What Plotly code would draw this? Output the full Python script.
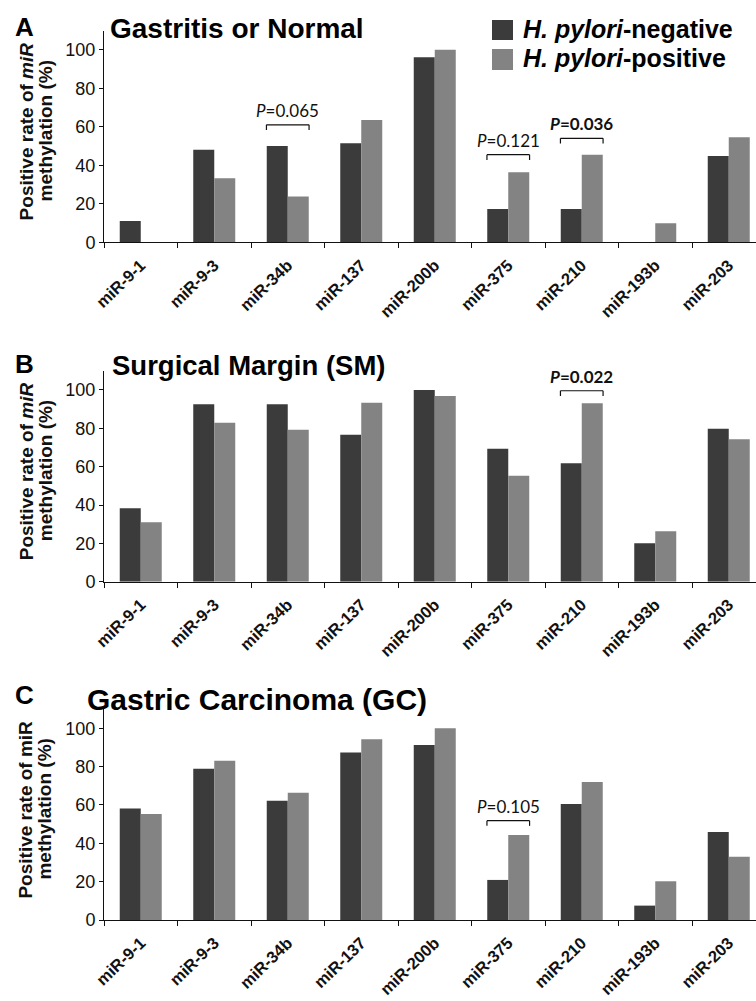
import plotly.graph_objects as go
from plotly.subplots import make_subplots

# microRNA loci on the x axis
mirs = ["miR-9-1", "miR-9-3", "miR-34b", "miR-137", "miR-200b",
        "miR-375", "miR-210", "miR-193b", "miR-203"]

# Positive rate of methylation (%) by H. pylori status
gastritis_neg = [11.1, 48.1, 50.0, 51.4, 96.1, 17.3, 17.3, 0.0, 44.8]
gastritis_pos = [0.0, 33.3, 23.8, 63.5, 100.0, 36.4, 45.5, 9.9, 54.5]
margin_neg = [38.3, 92.5, 92.5, 76.7, 100.0, 69.4, 61.8, 20.0, 79.8]
margin_pos = [31.0, 82.9, 79.3, 93.4, 96.9, 55.3, 93.1, 26.3, 74.3]
carcinoma_neg = [58.1, 78.9, 62.2, 87.3, 91.3, 20.9, 60.5, 7.5, 45.9]
carcinoma_pos = [55.3, 83.1, 66.4, 94.3, 100.0, 44.3, 72.0, 20.2, 33.0]

panel_letters = ["A", "B", "C"]
panel_titles = ["Gastritis or Normal", "Surgical Margin (SM)", "Gastric Carcinoma (GC)"]
series_names = ["H. pylori-negative", "H. pylori-positive"]

# P-value brackets: panel index, locus, label, bold flag, bracket height (%)
p_panel = [0, 0, 0, 1, 2]
p_mir = ["miR-34b", "miR-375", "miR-210", "miR-210", "miR-375"]
p_value = ["0.065", "0.121", "0.036", "0.022", "0.105"]
p_bold = [False, False, True, True, False]
p_level = [61.0, 45.5, 54.0, 99.6, 51.8]

W, H = 756, 1001
DARK = "#3b3b3b"
LIGHT = "#838383"
SANS = "Arial, 'Liberation Sans', sans-serif"
PFONT = "Lato, sans-serif"


def px_x(p):
    return p / W


def px_y(p):
    return 1 - p / H


# plot-area geometry per panel (pixels): top of value axis (110 %) and zero line
panel_top = [30.5, 370.8, 709.1]
panel_zero = [242.3, 581.7, 920.0]
plot_left = 104
cat_width = 73.5
x_right = (W - plot_left) / cat_width - 0.5

fig = make_subplots(rows=3, cols=1)

data = [(gastritis_neg, gastritis_pos), (margin_neg, margin_pos),
        (carcinoma_neg, carcinoma_pos)]
for k, (neg, pos) in enumerate(data):
    fig.add_trace(go.Bar(x=mirs, y=neg, name=series_names[0], marker_color=DARK,
                         marker_line_width=0, showlegend=False), row=k + 1, col=1)
    fig.add_trace(go.Bar(x=mirs, y=pos, name=series_names[1], marker_color=LIGHT,
                         marker_line_width=0, showlegend=False), row=k + 1, col=1)

ytitle_first = ["Positive rate of <i>miR</i>", "Positive rate of <i>miR</i>",
                "Positive rate of miR"]

for k in range(3):
    xa = "xaxis" if k == 0 else f"xaxis{k + 1}"
    ya = "yaxis" if k == 0 else f"yaxis{k + 1}"
    fig.layout[xa].update(
        domain=[px_x(plot_left), 1],
        type="category", range=[-0.5, x_right],
        tickmode="array", tickvals=mirs, ticktext=[f"<b>{m}</b>" for m in mirs],
        showline=True, linecolor="#111", linewidth=1,
        ticks="outside", tickson="boundaries", ticklen=5, tickcolor="#111",
        tickangle=-44, ticklabelstandoff=6, automargin=False,
        tickfont=dict(family=SANS, size=16.5, color="#111"),
        showgrid=False, zeroline=False,
    )
    fig.layout[ya].update(
        domain=[px_y(panel_zero[k]), px_y(panel_top[k])],
        range=[0, 110], tickvals=[0, 20, 40, 60, 80, 100],
        showline=True, linecolor="#111", linewidth=1,
        ticks="outside", ticklen=4, tickcolor="#111", automargin=False,
        tickfont=dict(family=SANS, size=18, color="#111"),
        showgrid=False, zeroline=False,
    )

    mid = (panel_top[k] + panel_zero[k]) / 2 - 5
    fig.add_annotation(text=f"<b>{ytitle_first[k]}</b>", xref="paper", yref="paper",
                       x=px_x(26), y=px_y(mid), textangle=-90, showarrow=False,
                       xanchor="center", yanchor="middle",
                       font=dict(family=SANS, size=19, color="#111"))
    fig.add_annotation(text="<b>methylation (%)</b>", xref="paper", yref="paper",
                       x=px_x(45), y=px_y(mid), textangle=-90, showarrow=False,
                       xanchor="center", yanchor="middle",
                       font=dict(family=SANS, size=19, color="#111"))

# panel letters and titles
letter_y = [27, 364, 695]
title_y = [28.5, 365, 699]
title_x = [108, 110, 85]
title_size = [28, 27.5, 30]
for k in range(3):
    fig.add_annotation(text=f"<b>{panel_letters[k]}</b>", xref="paper", yref="paper",
                       x=px_x(13), y=px_y(letter_y[k]), showarrow=False,
                       xanchor="left", yanchor="middle",
                       font=dict(family=SANS, size=26, color="#000"))
    fig.add_annotation(text=f"<b>{panel_titles[k]}</b>", xref="paper", yref="paper",
                       x=px_x(title_x[k]), y=px_y(title_y[k]), showarrow=False,
                       xanchor="left", yanchor="middle",
                       font=dict(family=SANS, size=title_size[k], color="#000"))

# P-value brackets spanning both bars of a locus
half = 0.29
leg = 2.7
for pk, m, v, b, lvl in zip(p_panel, p_mir, p_value, p_bold, p_level):
    i = mirs.index(m)
    xr = "x" if pk == 0 else f"x{pk + 1}"
    yr = "y" if pk == 0 else f"y{pk + 1}"
    segs = [(i - half, lvl - leg, i - half, lvl), (i - half, lvl, i + half, lvl),
            (i + half, lvl, i + half, lvl - leg)]
    for x0, y0, x1, y1 in segs:
        fig.add_shape(type="line", xref=xr, yref=yr, x0=x0, y0=y0, x1=x1, y1=y1,
                      line=dict(color="#111", width=1.2))
    label = f"<i>P</i>={v}"
    if b:
        label = f"<b>{label}</b>"
    fig.add_annotation(text=label, xref=xr, yref=yr, x=i, y=lvl, yshift=2,
                       showarrow=False, xanchor="center", yanchor="bottom",
                       font=dict(family=PFONT, size=17, color="#111"))

# legend drawn as swatches with labels
legend_rows = [(20, 40, 29), (49, 70, 58.5)]
for (y0, y1, yc), col, name in zip(legend_rows, [DARK, LIGHT], series_names):
    fig.add_shape(type="rect", xref="paper", yref="paper",
                  x0=px_x(492), x1=px_x(513), y0=px_y(y1), y1=px_y(y0),
                  fillcolor=col, line=dict(width=0))
    sp, rest = name.split("-", 1)
    fig.add_annotation(text=f"<b><i>{sp}</i>-{rest}</b>", xref="paper", yref="paper",
                       x=px_x(521), y=px_y(yc), showarrow=False,
                       xanchor="left", yanchor="middle",
                       font=dict(family=SANS, size=25, color="#000"))

fig.update_layout(
    width=W, height=H,
    margin=dict(l=0, r=0, t=0, b=0),
    barmode="group", bargap=0.4286, bargroupgap=0,
    plot_bgcolor="white", paper_bgcolor="white",
    showlegend=False,
)

fig.write_html("out.html")
